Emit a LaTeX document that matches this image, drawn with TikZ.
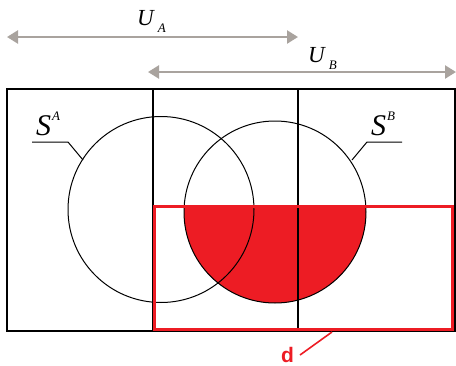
\documentclass[tikz,border=0pt]{standalone}
\usepackage{fontspec}
\setmainfont{Liberation Serif}
\newfontfamily\dsans{Liberation Sans}
\usetikzlibrary{arrows.meta}
\definecolor{dred}{HTML}{ED1C24}
\definecolor{agray}{HTML}{A9A39E}
\newcommand\idxfont{\fontsize{13}{14}\selectfont\itshape}

\begin{document}
\begin{tikzpicture}[x=1pt,y=-1pt,
  span/.style={agray,line width=2.4pt,{Triangle[length=11pt,width=13pt]}-{Triangle[length=11pt,width=13pt]}},
  frame/.style={black,line width=2.2pt},
  setline/.style={black,line width=1pt},
  ulab/.style={inner sep=0pt,font=\fontsize{23}{25}\selectfont\itshape},
  slab/.style={inner sep=0pt,font=\fontsize{30}{32}\selectfont\itshape}]
\useasboundingbox (0,0) rectangle (456,365);
% universes
\coordinate (ua-l) at (7,37);
\coordinate (ua-r) at (298,37);
\coordinate (ub-l) at (148,72);
\coordinate (ub-r) at (456,72);
\draw[span] (ua-l) -- (ua-r);
\draw[span] (ub-l) -- (ub-r);
\node[ulab,anchor=base west] (UA) at (137,25) {U\hspace{4pt}\raisebox{-7pt}{\idxfont A}};
\node[ulab,anchor=base west] (UB) at (308,62) {U\hspace{4pt}\raisebox{-7pt}{\idxfont B}};
% red part of S^B
\begin{scope}
\clip (154,206) rectangle (452,329);
\fill[dred] (275,212) circle[radius=91pt];
\end{scope}
% sets
\draw[setline] (161,209.5) circle[radius=93pt];
\draw[setline] (275,212) circle[radius=91pt];
\node[slab,anchor=base west] (SA) at (36,135) {S\hspace{1pt}\raisebox{15pt}{\idxfont A}};
\node[slab,anchor=base west] (SB) at (371,135) {S\hspace{1pt}\raisebox{15pt}{\idxfont B}};
\coordinate (sa-k) at (68,142);
\coordinate (sa-e) at (83,160);
\coordinate (sb-k) at (367,142);
\coordinate (sb-e) at (352,160);
\draw[setline] (32,142) -- (sa-k) -- (sa-e);
\draw[setline] (402,142) -- (sb-k) -- (sb-e);
% frame
\draw[frame] (7,89) rectangle (455,331);
\draw[frame] (153,89) -- (153,331);
\draw[frame] (298,89) -- (298,331);
% d
\draw[dred,line width=3pt] (154,206) rectangle (452,329);
\node[inner sep=0pt,anchor=base west,text=dred,font=\dsans\bfseries\fontsize{21}{23}\selectfont] (d) at (281,362) {d};
\coordinate (d-e) at (332,332);
\draw[dred,line width=1.6pt] (300,355) -- (d-e);
\end{tikzpicture}
\end{document}
